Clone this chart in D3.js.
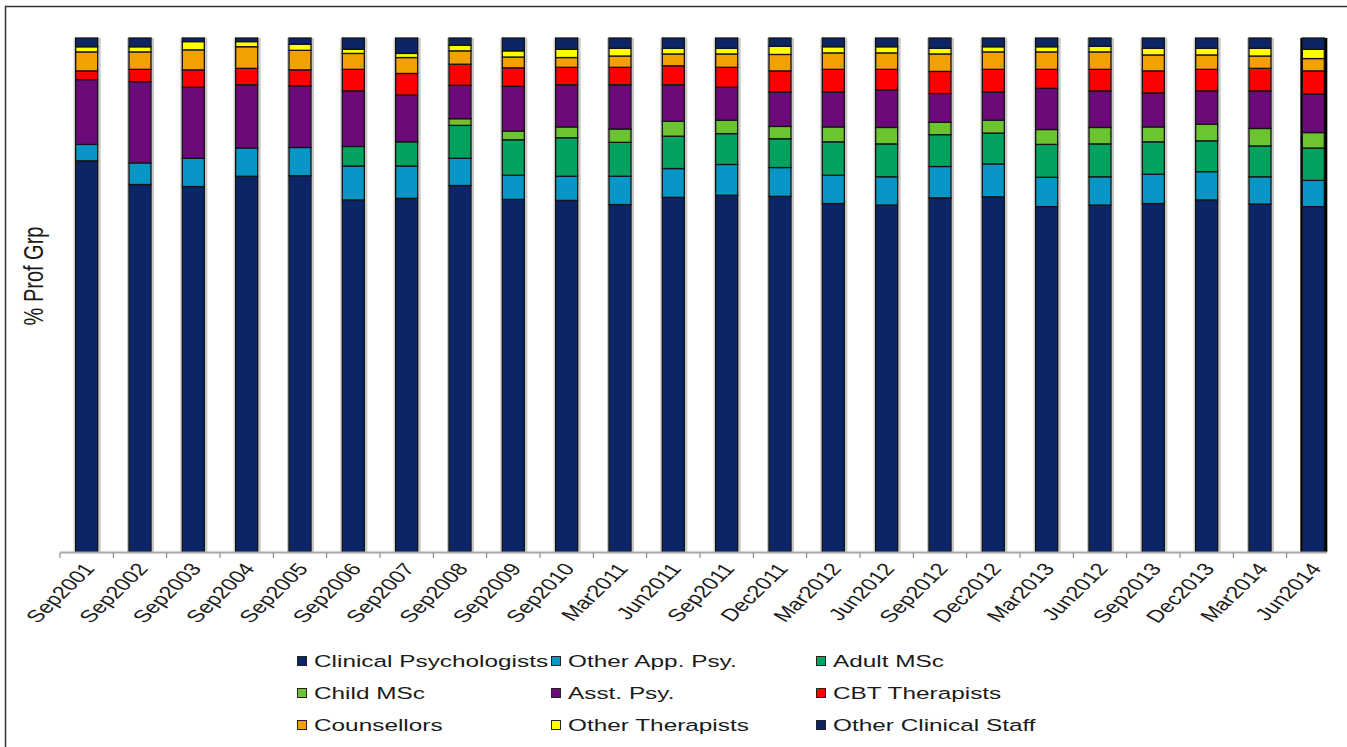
<!DOCTYPE html>
<html>
<head>
<meta charset="utf-8">
<script src="https://cdn.jsdelivr.net/npm/d3@7"></script>
<style>
  body { margin: 0; background: #fff; }
  svg { display: block; font-family: "Liberation Sans", Arial, sans-serif; }
</style>
</head>
<body>
<svg id="chart" width="1347" height="747"></svg>
<script>
// categories (note the repeated Jun2012 label, as in the source)
const periods = ['Sep2001', 'Sep2002', 'Sep2003', 'Sep2004', 'Sep2005', 'Sep2006', 'Sep2007', 'Sep2008',
  'Sep2009', 'Sep2010', 'Mar2011', 'Jun2011', 'Sep2011', 'Dec2011', 'Mar2012', 'Jun2012',
  'Sep2012', 'Dec2012', 'Mar2013', 'Jun2012', 'Sep2013', 'Dec2013', 'Mar2014', 'Jun2014']

const groupNames = ['Clinical Psychologists', 'Other App. Psy.', 'Adult MSc', 'Child MSc', 'Asst. Psy.',
  'CBT Therapists', 'Counsellors', 'Other Therapists', 'Other Clinical Staff']
const groupColors = ['#0b2566', '#0896c6', '#03a25f', '#6cc530', '#6c0a7a', '#ff0000', '#f2a100', '#ffff00', '#0b2566']

// % of staff by professional group, bottom to top
const clinPsy = [76.1, 71.5, 71.1, 73.1, 73.2, 68.5, 68.8, 71.3, 68.6, 68.4, 67.6, 69.0, 69.4, 69.2, 67.8, 67.5, 68.9, 69.1, 67.2, 67.5, 67.8, 68.5, 67.7, 67.2]
const otherAppPsy = [3.2, 4.2, 5.5, 5.5, 5.5, 6.6, 6.3, 5.3, 4.7, 4.7, 5.5, 5.6, 6.0, 5.6, 5.5, 5.5, 6.1, 6.4, 5.7, 5.5, 5.7, 5.5, 5.3, 5.1]
const adultMsc = [0, 0, 0, 0, 0, 3.8, 4.7, 6.4, 6.9, 7.5, 6.6, 6.3, 6.0, 5.6, 6.5, 6.4, 6.2, 6.0, 6.4, 6.4, 6.3, 6.0, 6.0, 6.3]
const childMsc = [0, 0, 0, 0, 0, 0, 0, 1.3, 1.7, 2.1, 2.6, 2.9, 2.6, 2.4, 2.9, 3.2, 2.4, 2.5, 2.9, 3.2, 2.9, 3.2, 3.4, 3.0]
const asstPsy = [12.6, 15.8, 13.8, 12.3, 12.0, 10.8, 9.1, 6.5, 8.7, 8.2, 8.6, 7.1, 6.4, 6.7, 6.8, 7.3, 5.6, 5.5, 8.0, 7.1, 6.6, 6.5, 7.3, 7.5]
const cbt = [1.7, 2.4, 3.4, 3.2, 3.1, 4.2, 4.2, 4.1, 3.6, 3.4, 3.4, 3.7, 3.9, 4.1, 4.4, 4.0, 4.3, 4.4, 3.7, 4.2, 4.3, 4.2, 4.4, 4.5]
const counsellors = [3.7, 3.4, 3.9, 4.2, 3.8, 3.1, 3.1, 2.6, 2.1, 1.9, 2.2, 2.3, 2.6, 3.2, 3.2, 3.2, 3.4, 3.4, 3.4, 3.4, 3.1, 2.8, 2.4, 2.4]
const otherTher = [1.0, 1.0, 1.6, 1.0, 1.2, 0.8, 0.8, 1.1, 1.2, 1.6, 1.5, 1.1, 1.1, 1.6, 1.2, 1.2, 1.1, 1.0, 1.0, 1.1, 1.3, 1.3, 1.5, 1.8]
const otherStaff = [1.7, 1.7, 0.7, 0.7, 1.2, 2.2, 3.0, 1.4, 2.5, 2.2, 2.0, 2.0, 2.0, 1.6, 1.7, 1.7, 2.0, 1.7, 1.7, 1.6, 2.0, 2.0, 2.0, 2.2]

const seriesValues = [clinPsy, otherAppPsy, adultMsc, childMsc, asstPsy, cbt, counsellors, otherTher, otherStaff]

const rows = periods.map(function (p, i) {
  const r = { idx: i, period: p }
  groupNames.forEach(function (g, k) { r[g] = seriesValues[k][i] })
  return r
})

const svg = d3.select('#chart')
const STRETCH = 1.4 // the source picture is stretched sideways, text too

// frame
svg.append('path')
  .attr('d', 'M5.5,747 V6.5 H1347')
  .attr('fill', 'none')
  .attr('stroke', '#333')
  .attr('stroke-width', 1.5)

const xScale = d3.scaleBand()
  .domain(d3.range(periods.length))
  .range([60, 1340])
  .paddingInner(0.5875)
  .paddingOuter(0.29375)

const yScale = d3.scaleLinear().domain([0, 1]).range([552, 38])

const stacked = d3.stack()
  .keys(groupNames)
  .offset(d3.stackOffsetExpand)(rows)

// light shadow behind each bar
svg.append('g')
  .selectAll('rect')
  .data(rows)
  .enter()
  .append('rect')
  .attr('x', function (d) { return xScale(d.idx) - 2 })
  .attr('y', yScale(1))
  .attr('width', xScale.bandwidth() + 5)
  .attr('height', yScale(0) - yScale(1))
  .attr('fill', function (d) { return d.idx === periods.length - 1 ? '#000' : '#c8c8c8' })

svg.append('g')
  .selectAll('g')
  .data(stacked)
  .enter()
  .append('g')
  .attr('fill', function (d, k) { return groupColors[k] })
  .selectAll('rect')
  .data(function (d) { return d.filter(function (s) { return s[1] - s[0] > 0 }) })
  .enter()
  .append('rect')
  .attr('x', function (s) { return xScale(s.data.idx) })
  .attr('y', function (s) { return yScale(s[1]) })
  .attr('width', xScale.bandwidth())
  .attr('height', function (s) { return yScale(s[0]) - yScale(s[1]) })
  .attr('stroke', '#141414')
  .attr('stroke-width', 1.3)

// x axis line and ticks between the bars
const axisG = svg.append('g')
axisG.append('line')
  .attr('x1', 60).attr('x2', 1327)
  .attr('y1', 552.5).attr('y2', 552.5)
  .attr('stroke', '#a8a8a8')
  .attr('stroke-width', 2)
axisG.selectAll('.tick-mark')
  .data(d3.range(periods.length))
  .enter()
  .append('line')
  .attr('class', 'tick-mark')
  .attr('x1', function (i) { return xScale(i) - xScale.step() * xScale.paddingInner() / 2 })
  .attr('x2', function (i) { return xScale(i) - xScale.step() * xScale.paddingInner() / 2 })
  .attr('y1', 553).attr('y2', 558)
  .attr('stroke', '#777')
  .attr('stroke-width', 1)

axisG.selectAll('.x-label')
  .data(rows)
  .enter()
  .append('text')
  .attr('class', 'x-label')
  .attr('transform', function (d) {
    const cx = xScale(d.idx) + xScale.bandwidth() / 2
    return 'translate(' + (cx + 9) + ',569) scale(1.35,1) rotate(-52)'
  })
  .attr('text-anchor', 'end')
  .attr('font-size', 17.5)
  .attr('fill', '#1a1a1a')
  .text(function (d) { return d.period })

// y axis title
svg.append('text')
  .attr('transform', 'translate(43,276) scale(' + STRETCH + ',1) rotate(-90)')
  .attr('text-anchor', 'middle')
  .attr('font-size', 20)
  .attr('fill', '#1a1a1a')
  .text('% Prof Grp')

// legend, three columns by three rows
const legendCols = [297, 551, 816]
const legendRows = [661, 693, 725]
const legend = svg.append('g')
  .selectAll('g')
  .data(groupNames)
  .enter()
  .append('g')
  .attr('transform', function (d, k) {
    return 'translate(' + legendCols[k % 3] + ',' + legendRows[Math.floor(k / 3)] + ')'
  })
legend.append('rect')
  .attr('x', 0.5).attr('y', -4.5)
  .attr('width', 9).attr('height', 9)
  .attr('fill', function (d, k) { return groupColors[k] })
  .attr('stroke', '#222')
  .attr('stroke-width', 1)
legend.append('text')
  .attr('transform', 'translate(17,0) scale(' + STRETCH + ',1)')
  .attr('dy', '0.36em')
  .attr('font-size', 17.4)
  .attr('fill', '#1a1a1a')
  .text(function (d) { return d })
</script>
</body>
</html>
